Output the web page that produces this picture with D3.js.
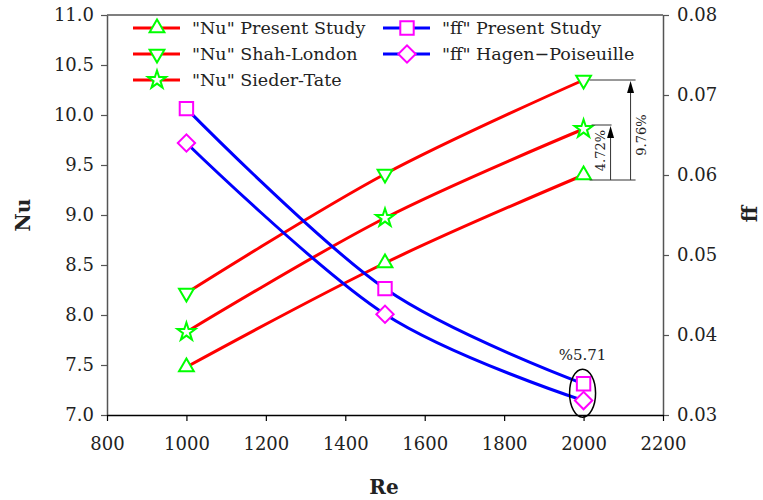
<!DOCTYPE html>
<html>
<head>
<meta charset="utf-8">
<script src="https://cdn.jsdelivr.net/npm/d3@7"></script>
<style>
  html, body { margin: 0; padding: 0; background: #fff; }
  svg { display: block; }
  text { font-family: "DejaVu Serif", serif; fill: #222; }
</style>
</head>
<body>
<svg id="chart" width="763" height="500"></svg>
<script>
// Reynolds numbers on the shared x axis
const reynolds = [1000, 1500, 2000];

// Nusselt number series (left axis)
const nuPresent = [7.48, 8.52, 9.40];
const nuShahLondon = [8.22, 9.41, 10.35];
const nuSiederTate = [7.83, 8.97, 9.86];

// Friction factor series (right axis)
const ffPresent = [0.0683, 0.0458, 0.0339];
const ffHagenPoiseuille = [0.0640, 0.0426, 0.0318];

// Axis ticks
const xTicks = [800, 1000, 1200, 1400, 1600, 1800, 2000, 2200];
const nuTicks = [7.0, 7.5, 8.0, 8.5, 9.0, 9.5, 10.0, 10.5, 11.0];
const ffTicks = [0.03, 0.04, 0.05, 0.06, 0.07, 0.08];

// Annotation labels
const nuGapSieder = "4.72%";
const nuGapShah = "9.76%";
const ffGapLabel = "%5.71";

const svg = d3.select("#chart");
const plotLeft = 107, plotRight = 663, plotTop = 15, plotBottom = 415;

const x = d3.scaleLinear().domain([800, 2200]).range([plotLeft, plotRight]);
const yNu = d3.scaleLinear().domain([7, 11]).range([plotBottom, plotTop]);
const yFf = d3.scaleLinear().domain([0.03, 0.08]).range([plotBottom, plotTop]);

const RED = "#ff0000", BLUE = "#0000ff", GREEN = "#00ff00", MAGENTA = "#ff00ff";

// Marker shapes
const triUp = d3.symbol().type(d3.symbolTriangle).size(95);
const star = d3.symbol().type(d3.symbolStar).size(100);
const square = d3.symbol().type(d3.symbolSquare).size(180);
const diamond = d3.symbol().type(d3.symbolSquare).size(150);

const markerDefs = {
  up:   { path: triUp(),   rotate: 0,   stroke: GREEN },
  down: { path: triUp(),   rotate: 180, stroke: GREEN },
  star: { path: star(),    rotate: 0,   stroke: GREEN },
  sq:   { path: square(),  rotate: 0,   stroke: MAGENTA },
  dia:  { path: diamond(), rotate: 45,  stroke: MAGENTA }
};

const series = [
  { name: "\"Nu\" Present Study", values: nuPresent, axis: yNu, color: RED, marker: "up" },
  { name: "\"Nu\" Shah-London", values: nuShahLondon, axis: yNu, color: RED, marker: "down" },
  { name: "\"Nu\" Sieder-Tate", values: nuSiederTate, axis: yNu, color: RED, marker: "star" },
  { name: "\"ff\" Present Study", values: ffPresent, axis: yFf, color: BLUE, marker: "sq" },
  { name: "\"ff\" Hagen\u2212Poiseuille", values: ffHagenPoiseuille, axis: yFf, color: BLUE, marker: "dia" }
];

function drawMarker(g, kind, cx, cy) {
  const m = markerDefs[kind];
  g.append("path")
    .attr("d", m.path)
    .attr("transform", `translate(${cx},${cy}) rotate(${m.rotate})`)
    .attr("fill", "#fff")
    .attr("stroke", m.stroke)
    .attr("stroke-width", 2);
}

// Axes
const axisColor = "#555";
const gLeft = svg.append("g").attr("transform", `translate(${plotLeft},0)`)
  .call(d3.axisLeft(yNu).tickValues(nuTicks).tickFormat(d3.format(".1f")).tickSize(6).tickSizeOuter(0));
const gRight = svg.append("g").attr("transform", `translate(${plotRight},0)`)
  .call(d3.axisRight(yFf).tickValues(ffTicks).tickFormat(d3.format(".2f")).tickSize(6).tickSizeOuter(0));
const gBottom = svg.append("g").attr("transform", `translate(0,${plotBottom})`)
  .call(d3.axisBottom(x).tickValues(xTicks).tickFormat(d3.format("d")).tickSize(6).tickSizeOuter(0));

[gLeft, gRight].forEach(g => {
  g.select(".domain").attr("stroke", axisColor).attr("stroke-width", 1.5);
  g.selectAll(".tick line").attr("stroke", axisColor).attr("stroke-width", 1.2);
});
gBottom.select(".domain").attr("stroke", "#000").attr("stroke-width", 1.5);
gBottom.selectAll(".tick line").attr("stroke", "#000").attr("stroke-width", 1.2);

[gLeft, gRight, gBottom].forEach(g => {
  g.selectAll(".tick text")
    .attr("font-family", "DejaVu Serif, serif")
    .attr("font-size", 18)
    .attr("fill", "#222");
});
gLeft.selectAll(".tick text").attr("x", -13);
gRight.selectAll(".tick text").attr("x", 14);
gBottom.selectAll(".tick text").attr("y", 22);

// Top frame line
svg.append("line")
  .attr("x1", plotLeft).attr("x2", plotRight).attr("y1", plotTop).attr("y2", plotTop)
  .attr("stroke", axisColor).attr("stroke-width", 1.5);

// Axis titles
svg.append("text").text("Re")
  .attr("x", (plotLeft + plotRight) / 2 - 1).attr("y", 494)
  .attr("text-anchor", "middle").attr("font-weight", "bold").attr("font-size", 20);
svg.append("text").text("Nu")
  .attr("transform", `translate(30,215) rotate(-90)`)
  .attr("text-anchor", "middle").attr("font-weight", "bold").attr("font-size", 20);
svg.append("text").text("ff")
  .attr("transform", `translate(757,214) rotate(-90)`)
  .attr("text-anchor", "middle").attr("font-weight", "bold").attr("font-size", 20);

// Series lines then markers
const gLines = svg.append("g");
const gMarks = svg.append("g");
series.forEach(s => {
  const line = d3.line()
    .x((d, i) => x(reynolds[i]))
    .y(d => s.axis(d))
    .curve(d3.curveCardinal.tension(0));
  gLines.append("path")
    .datum(s.values)
    .attr("d", line)
    .attr("fill", "none")
    .attr("stroke", s.color)
    .attr("stroke-width", 3);
});
series.forEach(s => {
  s.values.forEach((v, i) => drawMarker(gMarks, s.marker, x(reynolds[i]), s.axis(v)));
});

// Nu gap annotations at Re = 2000
const xa = x(2000);
const yBase = yNu(nuPresent[2]) + 5;
const yShah = yNu(nuShahLondon[2]);
const ySieder = yNu(nuSiederTate[2]) - 4;
const gAnn = svg.append("g");
gAnn.append("line").attr("x1", xa + 6).attr("x2", xa + 52).attr("y1", yBase).attr("y2", yBase)
  .attr("stroke", "#333").attr("stroke-width", 1);
gAnn.append("line").attr("x1", xa + 6).attr("x2", xa + 52).attr("y1", yShah).attr("y2", yShah)
  .attr("stroke", "#333").attr("stroke-width", 1);
gAnn.append("line").attr("x1", xa + 8).attr("x2", xa + 28).attr("y1", ySieder).attr("y2", ySieder)
  .attr("stroke", "#333").attr("stroke-width", 1);

function arrow(xp, y0, y1) {
  gAnn.append("line").attr("x1", xp).attr("x2", xp).attr("y1", y0).attr("y2", y1 + 10)
    .attr("stroke", "#333").attr("stroke-width", 1);
  gAnn.append("path")
    .attr("d", `M${xp},${y1 + 1} L${xp - 3.5},${y1 + 13} L${xp + 3.5},${y1 + 13} Z`)
    .attr("fill", "#000");
}
arrow(xa + 27, yBase, ySieder);
arrow(xa + 47, yBase, yShah);

gAnn.append("text").text(nuGapSieder)
  .attr("transform", `translate(${xa + 21},${(yBase + ySieder) / 2 - 2}) rotate(-90)`)
  .attr("text-anchor", "middle").attr("font-size", 13);
gAnn.append("text").text(nuGapShah)
  .attr("transform", `translate(${xa + 62},${(yBase + yShah) / 2 + 5}) rotate(-90)`)
  .attr("text-anchor", "middle").attr("font-size", 13);

// ff gap highlight at Re = 2000
const yMid = (yFf(ffPresent[2]) + yFf(ffHagenPoiseuille[2])) / 2;
gAnn.append("ellipse")
  .attr("cx", xa - 1).attr("cy", yMid + 1)
  .attr("rx", 13).attr("ry", 24)
  .attr("fill", "none").attr("stroke", "#000").attr("stroke-width", 1.5);
gAnn.append("text").text(ffGapLabel)
  .attr("x", xa - 1).attr("y", yMid - 32)
  .attr("text-anchor", "middle").attr("font-size", 15);

// Legend
const legendRows = [
  { s: series[0], lx: 133, ly: 28 },
  { s: series[1], lx: 133, ly: 54 },
  { s: series[2], lx: 133, ly: 80 },
  { s: series[3], lx: 383, ly: 28 },
  { s: series[4], lx: 383, ly: 54 }
];
const gLeg = svg.append("g");
legendRows.forEach(r => {
  gLeg.append("line")
    .attr("x1", r.lx).attr("x2", r.lx + 47).attr("y1", r.ly).attr("y2", r.ly)
    .attr("stroke", r.s.color).attr("stroke-width", 3);
  drawMarker(gLeg, r.s.marker, r.lx + 24, r.ly);
  gLeg.append("text").text(r.s.name)
    .attr("x", r.lx + 59).attr("y", r.ly + 6)
    .attr("font-size", 17.5);
});
</script>
</body>
</html>
